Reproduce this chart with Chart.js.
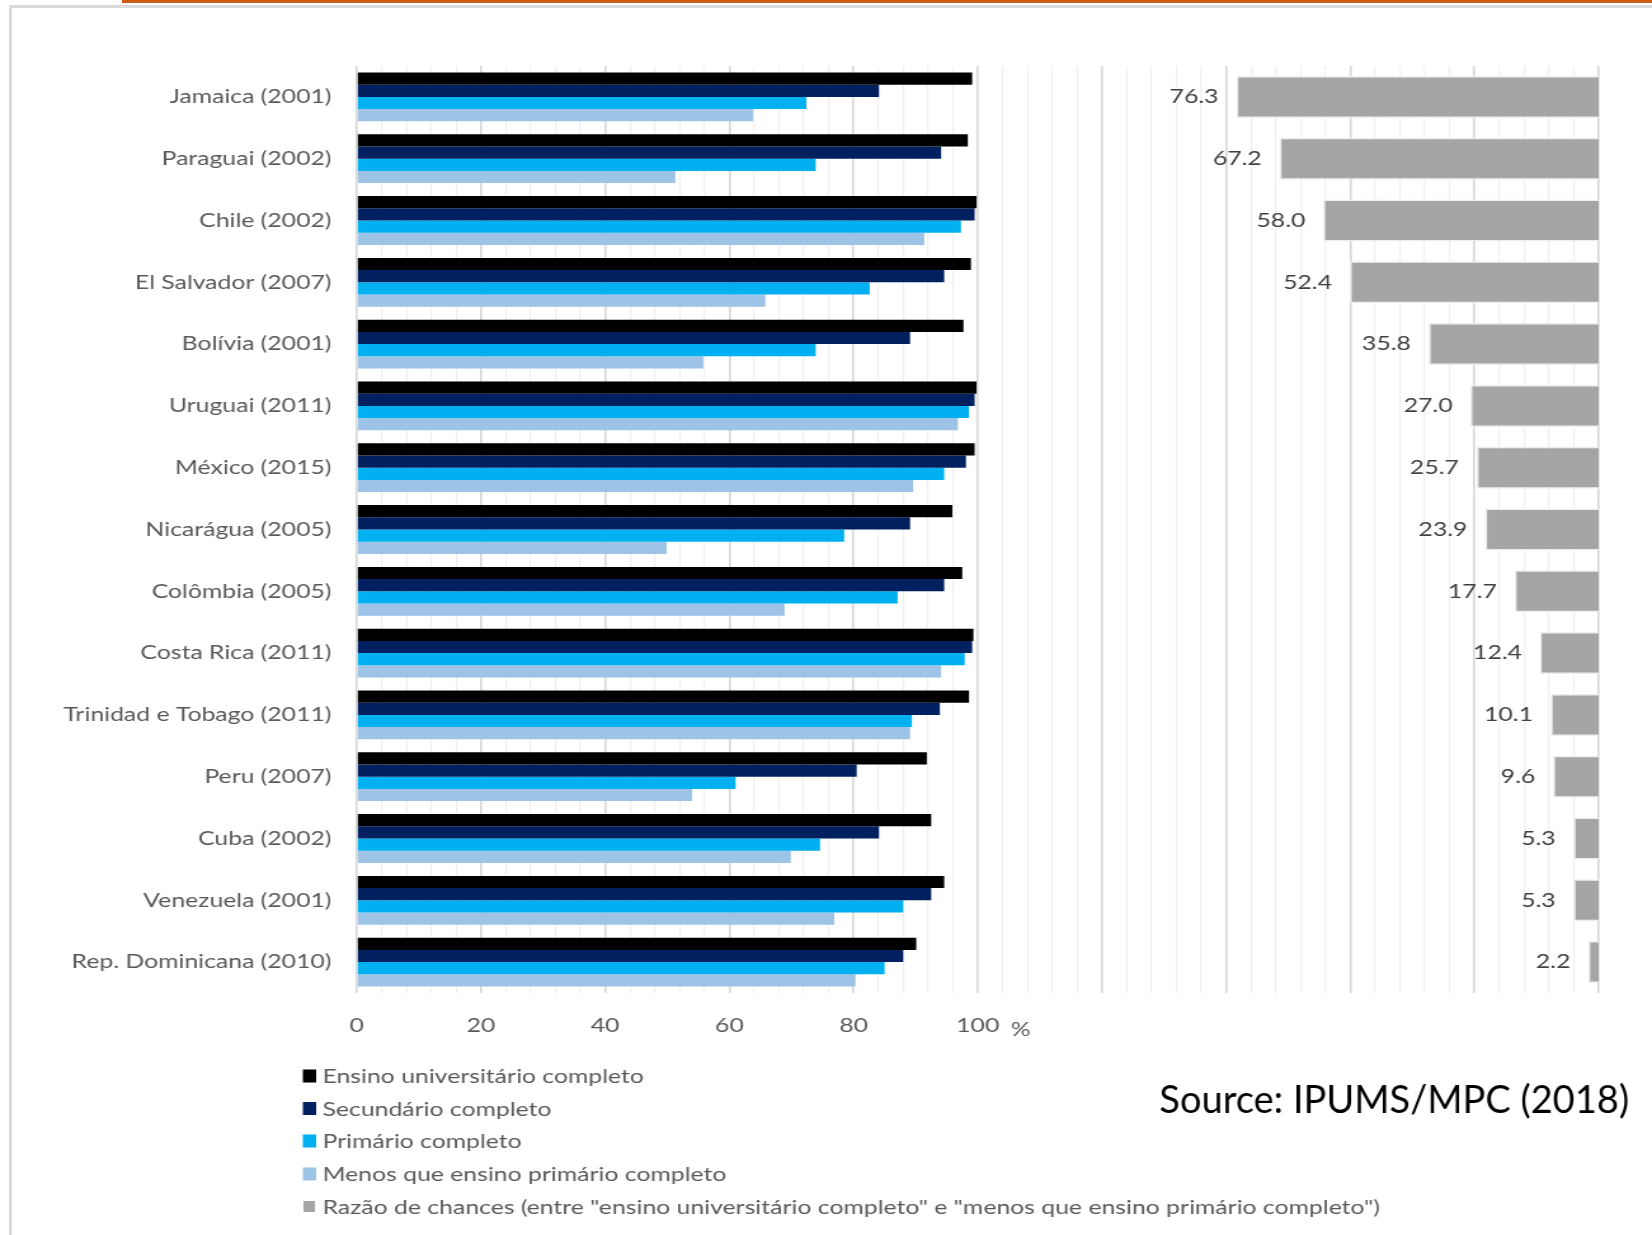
<!DOCTYPE html>
<html>
<head>
<meta charset="utf-8">
<script src="https://cdn.jsdelivr.net/npm/chart.js@4.4.1/dist/chart.umd.min.js"></script>
<style>
	body { margin: 0; background: #ffffff; overflow: hidden; }
	#topLine { position: absolute; left: 122px; right: 0; top: 0; height: 3px; background: #c95b12; }
	#frame { position: absolute; left: 9px; top: 5px; width: 1700px; height: 1300px; border-left: 3px solid #dadada; border-top: 3px solid #dadada; }
	#educationChart { position: absolute; left: 0; top: 0; }
</style>
</head>
<body>
<div id="topLine"></div>
<div id="frame"></div>
<!-- the original graphic is stretched sideways, so the canvas is drawn narrow and shown wide -->
<canvas id="educationChart" width="1301" height="1235" style="width:1652px;height:1235px"></canvas>
<script>
const countries = ['Jamaica (2001)', 'Paraguai (2002)', 'Chile (2002)', 'El Salvador (2007)', 'Bolívia (2001)',
	'Uruguai (2011)', 'México (2015)', 'Nicarágua (2005)', 'Colômbia (2005)', 'Costa Rica (2011)',
	'Trinidad e Tobago (2011)', 'Peru (2007)', 'Cuba (2002)', 'Venezuela (2001)', 'Rep. Dominicana (2010)'];

const universitario = [99.1, 98.4, 99.8, 98.9, 97.7, 99.8, 99.5, 95.9, 97.5, 99.3, 98.6, 91.8, 92.5, 94.6, 90.1];
const secundario = [84.1, 94.1, 99.5, 94.6, 89.1, 99.5, 98.1, 89.1, 94.6, 99.1, 93.9, 80.5, 84.1, 92.5, 88.0];
const primario = [72.4, 73.9, 97.3, 82.6, 73.9, 98.6, 94.6, 78.5, 87.1, 97.9, 89.4, 61.0, 74.6, 88.0, 85.0];
const menosPrimario = [63.8, 51.3, 91.4, 65.8, 55.8, 96.8, 89.6, 49.9, 68.9, 94.1, 89.1, 54.0, 69.9, 76.9, 80.3];
const razaoChances = [76.3, 67.2, 58.0, 52.4, 35.8, 27.0, 25.7, 23.9, 17.7, 12.4, 10.1, 9.6, 5.3, 5.3, 2.2];

const seriesNames = ['Ensino universitário completo', 'Secundário completo', 'Primário completo',
	'Menos que ensino primário completo',
	'Razão de chances (entre "ensino universitário completo" e "menos que ensino primário completo")'];

const xTickLabels = [0, 20, 40, 60, 80, 100];
const sourceText = 'Source: IPUMS/MPC (2018)';

const stretch = 1652 / 1301;
const fontName = 'Lato';
const textGray = '#595959';

// legend, "%" and source are drawn by hand so they can sit like in the original
const extrasPlugin = {
	id: 'extras',
	afterDatasetsDraw(chart) {
		const c = chart.ctx;
		const meta = chart.getDatasetMeta(4);
		c.save();
		c.font = '19.5px ' + fontName;
		c.fillStyle = '#404040';
		c.textAlign = 'right';
		c.textBaseline = 'middle';
		meta.data.forEach((bar, i) => {
			c.fillText(razaoChances[i].toFixed(1), bar.x - 14, bar.y);
		});
		c.restore();
	},
	afterDraw(chart) {
		const c = chart.ctx;
		c.save();
		c.font = '19.5px ' + fontName;
		c.fillStyle = textGray;
		c.textBaseline = 'middle';
		c.textAlign = 'left';
		c.fillText('%', 796, 1030);

		// legend
		const rowY = [1076, 1108.5, 1141, 1174, 1206.5];
		chart.data.datasets.forEach((ds, i) => {
			c.fillStyle = ds.backgroundColor;
			if (i === 4) {
				c.fillRect(239, rowY[i] - 5.5, 9, 11);
			} else {
				c.fillRect(238.5, rowY[i] - 6.5, 10.5, 13);
			}
			c.fillStyle = textGray;
			c.fillText(seriesNames[i], 254, rowY[i] + 1);
		});

		// source note is not stretched
		c.scale(1 / stretch, 1);
		c.font = '38px ' + fontName;
		c.fillStyle = '#000000';
		c.textAlign = 'right';
		c.fillText(sourceText, 1629, 1101);
		c.restore();
	}
};

var ctx = document.getElementById('educationChart').getContext('2d');

var chart = new Chart(ctx, {
	type: 'bar',
	data: {
		labels: countries,
		datasets: [
			{ label: seriesNames[0], data: universitario, backgroundColor: '#000000', xAxisID: 'x' },
			{ label: seriesNames[1], data: secundario, backgroundColor: '#002060', xAxisID: 'x' },
			{ label: seriesNames[2], data: primario, backgroundColor: '#00b0f0', xAxisID: 'x' },
			{ label: seriesNames[3], data: menosPrimario, backgroundColor: '#9dc3e6', xAxisID: 'x' },
			{
				// odds ratio grows from the right edge, on its own reversed axis
				label: seriesNames[4],
				data: razaoChances,
				backgroundColor: '#a5a5a5',
				borderColor: '#ededed',
				borderWidth: 1.5,
				xAxisID: 'x2',
				grouped: false,
				categoryPercentage: 0.68
			}
		]
	},
	options: {
		indexAxis: 'y',
		responsive: false,
		devicePixelRatio: 1,
		animation: false,
		categoryPercentage: 0.79,
		barPercentage: 1.0,
		layout: {
			padding: { top: 66, right: 42, bottom: 0, left: 0 }
		},
		plugins: {
			legend: { display: false },
			tooltip: { enabled: false }
		},
		scales: {
			x: {
				min: 0,
				max: 200,
				border: { display: false },
				grid: {
					drawTicks: false,
					tickLength: 0,
					color: (c) => (c.tick && c.tick.value % 20 === 0) ? '#d6d6d6' : '#efefef',
					lineWidth: (c) => (c.tick && c.tick.value % 20 === 0) ? 1.6 : 1.2
				},
				ticks: {
					stepSize: 4,
					maxTicksLimit: 100,
					autoSkip: false,
					maxRotation: 0,
					padding: 21,
					color: textGray,
					font: { family: fontName, size: 19.5 },
					callback: (value) => xTickLabels.includes(value) ? String(value) : ''
				},
				afterFit: (scale) => { scale.height = 242; }
			},
			x2: {
				display: false,
				reverse: true,
				min: 0,
				max: 261.5
			},
			y: {
				border: { display: false },
				grid: { display: false, drawTicks: false, tickLength: 0 },
				ticks: {
					padding: 20,
					color: textGray,
					font: { family: fontName, size: 19.5 }
				},
				afterFit: (scale) => { scale.width = 281; }
			}
		}
	},
	plugins: [extrasPlugin]
});
</script>
</body>
</html>
